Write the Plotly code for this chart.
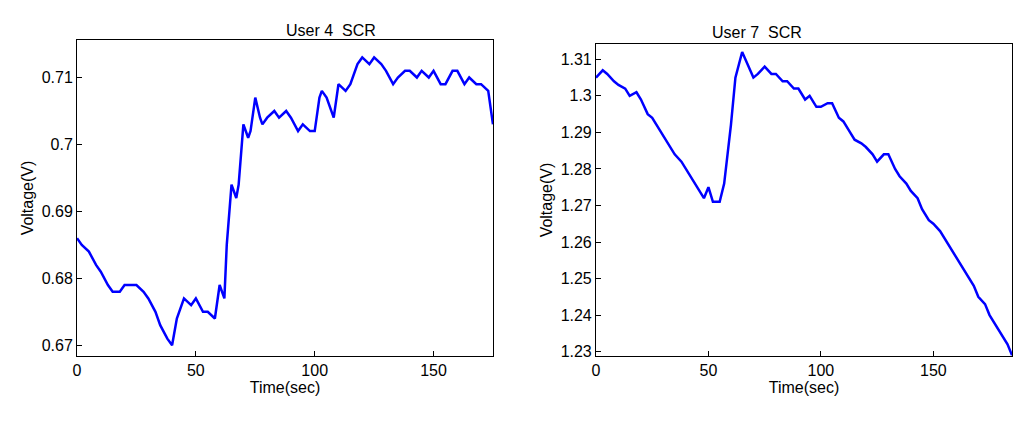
import plotly.graph_objects as go

t1 = [0,2,5,8,10,13,15,18,20,23,25,28,30,33,35,38,40,42,45,48,50,53,55,58,60,62,63,65,67,68,70,72,73,75,77,78,80,83,85,88,90,93,95,98,100,102,103,105,108,110,113,115,118,120,123,125,128,130,133,135,138,140,143,145,148,150,153,155,158,160,163,165,168,170,173,175]
v1 = [0.686,0.685,0.684,0.682,0.681,0.679,0.678,0.678,0.679,0.679,0.679,0.678,0.677,0.675,0.673,0.671,0.670,0.674,0.677,0.676,0.677,0.675,0.675,0.674,0.679,0.677,0.685,0.694,0.692,0.694,0.703,0.701,0.702,0.707,0.704,0.703,0.704,0.705,0.704,0.705,0.704,0.702,0.703,0.702,0.702,0.707,0.708,0.707,0.704,0.709,0.708,0.709,0.712,0.713,0.712,0.713,0.712,0.711,0.709,0.710,0.711,0.711,0.710,0.711,0.710,0.711,0.709,0.709,0.711,0.711,0.709,0.710,0.709,0.709,0.708,0.703]

t2 = [0,3,5,8,10,13,15,18,20,23,25,28,30,33,35,38,40,43,45,48,50,52,55,57,60,62,65,67,70,72,75,78,80,83,85,88,90,93,95,98,100,103,105,108,110,113,115,118,120,123,125,128,130,133,135,138,140,143,145,148,150,153,155,158,160,163,165,168,170,173,175,178,180,183,185]
v2 = [1.305,1.307,1.306,1.304,1.303,1.302,1.300,1.301,1.299,1.295,1.294,1.291,1.289,1.286,1.284,1.282,1.280,1.277,1.275,1.272,1.275,1.271,1.271,1.276,1.292,1.305,1.312,1.309,1.305,1.306,1.308,1.306,1.306,1.304,1.304,1.302,1.302,1.299,1.300,1.297,1.297,1.298,1.298,1.294,1.293,1.290,1.288,1.287,1.286,1.284,1.282,1.284,1.284,1.280,1.278,1.276,1.274,1.272,1.269,1.266,1.265,1.263,1.261,1.258,1.256,1.253,1.251,1.248,1.245,1.243,1.240,1.237,1.235,1.232,1.229]

fig = go.Figure()
line = dict(color="#0000ff", width=2.5)
fig.add_trace(go.Scatter(x=t1, y=v1, mode="lines", line=line, xaxis="x", yaxis="y"))
fig.add_trace(go.Scatter(x=t2, y=v2, mode="lines", line=line, xaxis="x2", yaxis="y2"))

ax = dict(showgrid=False, zeroline=False, showline=True, mirror=True, linecolor="black", automargin=False,
          ticks="inside", ticklen=5, tickcolor="black", tickfont=dict(size=16, color="black"))
fig.update_layout(
    width=1024, height=423, showlegend=False, plot_bgcolor="white", paper_bgcolor="white",
    margin=dict(l=0, r=0, t=0, b=0, autoexpand=False), font=dict(family="Liberation Sans", color="black"),
    xaxis=dict(ax, domain=[0.0674, 0.4736], range=[0, 175], tickvals=[0,50,100,150], anchor="y",
               title=dict(text="Time(sec)", font=dict(size=16), standoff=0)),
    yaxis=dict(ax, domain=[0.1773, 0.9243], range=[0.6684, 0.7156], tickvals=[0.67,0.68,0.69,0.70,0.71],
               ticktext=["0.67","0.68","0.69","0.7","0.71"], anchor="x",
               title=dict(text="Voltage(V)", font=dict(size=16), standoff=4)),
    xaxis2=dict(ax, domain=[0.5742, 0.9805], range=[0, 185], tickvals=[0,50,100,150], anchor="y2",
                title=dict(text="Time(sec)", font=dict(size=16), standoff=0)),
    yaxis2=dict(ax, domain=[0.1773, 0.9149], range=[1.2288, 1.3142],
                tickvals=[1.23,1.24,1.25,1.26,1.27,1.28,1.29,1.30,1.31],
                ticktext=["1.23","1.24","1.25","1.26","1.27","1.28","1.29","1.3","1.31"], anchor="x2",
                title=dict(text="Voltage(V)", font=dict(size=16), standoff=4)),
    annotations=[
        dict(text="User 4  SCR", x=0.270, y=0.972, xref="paper", yref="paper", showarrow=False, font=dict(size=16)),
        dict(text="User 7  SCR", x=0.777, y=0.967, xref="paper", yref="paper", showarrow=False, font=dict(size=16)),
    ],
)
fig.write_html("out.html")
